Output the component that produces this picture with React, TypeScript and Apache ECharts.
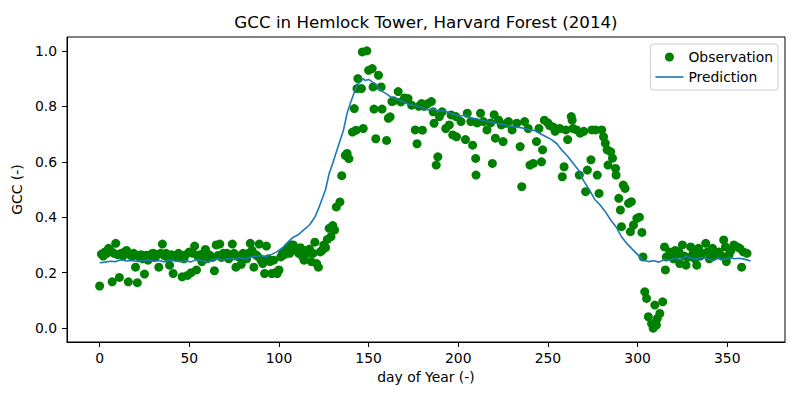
import React, { useEffect, useRef } from "react";
import * as echarts from "echarts";

const TITLE = "GCC in Hemlock Tower, Harvard Forest (2014)";
const X_LABEL = "day of Year (-)";
const Y_LABEL = "GCC (-)";
const xTicks = [0, 50, 100, 150, 200, 250, 300, 350];
const yTicks = [0, 0.2, 0.4, 0.6, 0.8, 1.0];

const observations: [number, number][] = [
  [0, 0.152], [1, 0.267], [2, 0.26], [3, 0.275], [4, 0.27], [5, 0.288], [6, 0.28], [7, 0.167], [8, 0.27], [9, 0.306],
  [10, 0.265], [11, 0.183], [12, 0.27], [13, 0.26], [14, 0.275], [15, 0.28], [16, 0.167], [17, 0.265], [18, 0.258], [19, 0.27],
  [20, 0.22], [21, 0.164], [22, 0.257], [23, 0.265], [24, 0.25], [25, 0.195], [26, 0.263], [27, 0.245], [28, 0.26], [29, 0.268],
  [30, 0.27], [31, 0.255], [32, 0.265], [33, 0.22], [34, 0.27], [35, 0.303], [36, 0.262], [37, 0.27], [38, 0.255], [39, 0.227],
  [40, 0.265], [41, 0.197], [42, 0.26], [43, 0.255], [44, 0.27], [45, 0.262], [46, 0.185], [47, 0.25], [48, 0.265], [49, 0.19],
  [50, 0.275], [51, 0.2], [52, 0.27], [53, 0.296], [54, 0.21], [55, 0.257], [56, 0.265], [57, 0.24], [58, 0.27], [59, 0.284],
  [60, 0.25], [61, 0.265], [62, 0.26], [63, 0.255], [64, 0.207], [65, 0.3], [66, 0.262], [67, 0.303], [68, 0.255], [69, 0.27],
  [70, 0.26], [71, 0.27], [72, 0.25], [73, 0.265], [74, 0.303], [75, 0.27], [76, 0.22], [77, 0.26], [78, 0.255], [79, 0.23],
  [80, 0.27], [81, 0.265], [82, 0.25], [83, 0.27], [84, 0.306], [85, 0.28], [86, 0.22], [87, 0.265], [88, 0.26], [89, 0.303],
  [90, 0.245], [91, 0.233], [92, 0.197], [93, 0.296], [94, 0.25], [95, 0.24], [96, 0.197], [97, 0.245], [98, 0.2], [99, 0.197],
  [100, 0.21], [101, 0.257], [102, 0.27], [103, 0.265], [104, 0.28], [105, 0.29], [106, 0.27], [107, 0.3], [108, 0.3], [109, 0.285],
  [110, 0.28], [111, 0.27], [112, 0.29], [113, 0.26], [114, 0.245], [115, 0.28], [116, 0.27], [117, 0.285], [118, 0.24], [119, 0.27],
  [120, 0.31], [121, 0.233], [122, 0.22], [123, 0.275], [124, 0.28], [125, 0.3], [126, 0.29], [127, 0.32], [128, 0.36], [129, 0.33],
  [130, 0.37], [131, 0.354], [132, 0.437], [134, 0.455], [135, 0.55], [137, 0.623], [138, 0.63], [139, 0.611], [141, 0.707], [142, 0.792],
  [143, 0.714], [143.5, 0.864], [144, 0.9], [146, 0.864], [146.5, 0.996], [147, 0.72], [149, 1.0], [150, 0.93], [152, 0.936], [152.5, 0.87],
  [153, 0.79], [154, 0.683], [155.5, 0.912], [157, 0.87], [157.5, 0.79], [160, 0.677], [161, 0.757], [162, 0.762], [163, 0.817], [164, 0.82],
  [166.5, 0.853], [168, 0.816], [170, 0.83], [172, 0.828], [174, 0.804], [176, 0.715], [177, 0.665], [178, 0.8], [179.5, 0.81], [180, 0.714],
  [181, 0.8], [183, 0.81], [185, 0.817], [186, 0.78], [186.5, 0.739], [187.7, 0.588], [188.6, 0.618], [189.5, 0.763], [191, 0.78], [193, 0.72],
  [195, 0.733], [196, 0.769], [196.9, 0.697], [198.7, 0.763], [199, 0.69], [201.5, 0.745], [204, 0.68], [205, 0.775], [207, 0.745], [208, 0.66],
  [209.7, 0.612], [209.9, 0.552], [210.5, 0.74], [212.4, 0.775], [214, 0.745], [216, 0.715], [218, 0.74], [219, 0.594], [220, 0.77], [220.7, 0.685],
  [222.5, 0.75], [224, 0.733], [225, 0.673], [227, 0.739], [228, 0.745], [230, 0.715], [232.6, 0.739], [234.5, 0.655], [235.4, 0.51], [237, 0.745],
  [239, 0.72], [240, 0.588], [241.8, 0.594], [243.6, 0.673], [245, 0.72], [246.4, 0.6], [247, 0.643], [248, 0.75], [250, 0.74], [251, 0.73],
  [253, 0.725], [254, 0.71], [256.6, 0.72], [258, 0.546], [259, 0.582], [260, 0.715], [261, 0.68], [263, 0.763], [263.5, 0.75], [264, 0.72],
  [266, 0.715], [267.5, 0.552], [268, 0.703], [270, 0.71], [271, 0.492], [272, 0.57], [274, 0.607], [274.5, 0.715], [276.6, 0.715], [277.5, 0.552],
  [278.5, 0.486], [280, 0.715], [281, 0.69], [282, 0.667], [283, 0.643], [283.5, 0.588], [285, 0.636], [286, 0.613], [287.7, 0.576], [288, 0.552],
  [289.5, 0.468], [290.4, 0.426], [291, 0.366], [292, 0.516], [293, 0.504], [295, 0.45], [296, 0.348], [296.5, 0.456], [297.7, 0.372], [299.6, 0.396],
  [301, 0.4], [302.4, 0.345], [303, 0.257], [304, 0.131], [305, 0.107], [306, 0.041], [307.8, 0.017], [308.7, 0.0], [309.6, 0.083], [310.5, 0.011],
  [311, 0.035], [312.4, 0.053], [314, 0.095], [315, 0.293], [315.5, 0.21], [316, 0.257], [318, 0.275], [319, 0.26], [320, 0.25], [321, 0.28],
  [322, 0.265], [323, 0.275], [323.5, 0.233], [325, 0.3], [326, 0.26], [327, 0.227], [328, 0.255], [329.6, 0.293], [331, 0.27], [332, 0.25],
  [333, 0.227], [334, 0.288], [335, 0.26], [336, 0.27], [338, 0.306], [339, 0.275], [340, 0.25], [341.8, 0.288], [342, 0.26], [344, 0.27],
  [345.4, 0.275], [347, 0.26], [348, 0.318], [349, 0.293], [349.5, 0.24], [351, 0.265], [352, 0.28], [353.7, 0.3], [355.5, 0.293], [357, 0.288],
  [358, 0.22], [359, 0.275], [361, 0.27],
];

const prediction: [number, number][] = [
  [0, 0.236], [3, 0.238], [6, 0.241], [9, 0.24], [12, 0.247], [15, 0.242], [18, 0.244], [21, 0.24], [24, 0.243], [27, 0.246],
  [30, 0.241], [33, 0.244], [36, 0.239], [39, 0.245], [42, 0.242], [45, 0.24], [48, 0.243], [51, 0.239], [54, 0.248], [57, 0.244],
  [60, 0.238], [63, 0.246], [66, 0.25], [69, 0.245], [72, 0.251], [75, 0.247], [78, 0.254], [81, 0.25], [84, 0.256], [87, 0.259],
  [90, 0.262], [93, 0.258], [96, 0.266], [99, 0.276], [102, 0.29], [105, 0.31], [108, 0.328], [111, 0.338], [114, 0.355], [117, 0.372],
  [120, 0.4], [122, 0.43], [124, 0.465], [126, 0.5], [128, 0.558], [130, 0.595], [132, 0.635], [134, 0.675], [136, 0.715], [138, 0.775],
  [140, 0.815], [142, 0.85], [144, 0.88], [146, 0.892], [147, 0.9], [148, 0.893], [150, 0.897], [152, 0.888], [154, 0.88], [156, 0.862],
  [158, 0.852], [160, 0.845], [162, 0.835], [164, 0.83], [166, 0.826], [168, 0.82], [171, 0.81], [174, 0.805], [177, 0.8], [180, 0.795],
  [183, 0.788], [186, 0.79], [189, 0.782], [192, 0.785], [195, 0.776], [198, 0.77], [201, 0.765], [204, 0.768], [207, 0.758], [210, 0.755],
  [213, 0.75], [216, 0.746], [219, 0.742], [222, 0.738], [225, 0.735], [228, 0.73], [231, 0.726], [234, 0.724], [237, 0.72], [240, 0.715],
  [243, 0.712], [246, 0.7], [249, 0.69], [252, 0.68], [255, 0.665], [258, 0.64], [261, 0.62], [264, 0.595], [267, 0.57], [270, 0.53],
  [273, 0.5], [276, 0.465], [279, 0.445], [282, 0.42], [285, 0.39], [288, 0.365], [291, 0.33], [294, 0.305], [297, 0.285], [300, 0.265],
  [303, 0.245], [306, 0.24], [309, 0.243], [312, 0.238], [315, 0.248], [318, 0.245], [321, 0.252], [324, 0.247], [327, 0.26], [330, 0.252],
  [333, 0.248], [336, 0.255], [339, 0.25], [342, 0.243], [345, 0.252], [348, 0.247], [351, 0.255], [354, 0.25], [357, 0.252], [360, 0.248],
  [363, 0.242],
];

const FONT = "DejaVu Sans";

export default function App() {
  const ref = useRef<HTMLDivElement>(null);
  useEffect(() => {
    if (!ref.current) return;
    const chart = echarts.init(ref.current, undefined, { renderer: "svg" });
    const axisCommon = {
      axisLine: { show: true, onZero: false, lineStyle: { color: "#000", width: 1 } },
      splitLine: { show: false },
    };
    chart.setOption({
      animation: false,
      backgroundColor: "#fff",
      textStyle: { fontFamily: FONT },
      grid: {
        left: 67, right: 15, top: 37, bottom: 58,
        show: true, borderColor: "#000", borderWidth: 1, backgroundColor: "transparent",
      },
      graphic: [
        {
          type: "text", x: 426, y: 22,
          style: {
            text: TITLE, fill: "#000", font: `16.7px ${FONT}`,
            textAlign: "center", textVerticalAlign: "middle",
          },
        },
      ],
      legend: {
        orient: "vertical",
        right: 22, top: 44,
        data: [
          { name: "Observation", icon: "circle" },
          { name: "Prediction", icon: "path://M0,0H28V1.6H0Z" },
        ],
        itemWidth: 28, itemHeight: 9, itemGap: 4, itemTextGap: 12,
        padding: [5, 5, 5, 5],
        backgroundColor: "rgba(255,255,255,0.8)",
        borderColor: "#cccccc", borderWidth: 1, borderRadius: 3,
        textStyle: { fontFamily: FONT, fontSize: 13.9, color: "#000", lineHeight: 16 },
      },
      xAxis: {
        type: "value", min: -18.2, max: 382.2,
        ...axisCommon,
        name: X_LABEL, nameLocation: "middle", nameGap: 27,
        nameTextStyle: { fontFamily: FONT, fontSize: 13.9, color: "#000" },
        axisTick: { show: true, length: 5, customValues: xTicks, lineStyle: { color: "#000" } },
        axisLabel: {
          customValues: xTicks, margin: 9, color: "#000", fontFamily: FONT, fontSize: 13.9,
          formatter: (v: number) => String(v),
        },
      },
      yAxis: {
        type: "value", min: -0.05, max: 1.05,
        ...axisCommon,
        name: Y_LABEL, nameLocation: "middle", nameGap: 38,
        nameTextStyle: { fontFamily: FONT, fontSize: 13.9, color: "#000" },
        axisTick: { show: true, length: 5, customValues: yTicks, lineStyle: { color: "#000" } },
        axisLabel: {
          customValues: yTicks, margin: 10, color: "#000", fontFamily: FONT, fontSize: 13.9,
          formatter: (v: number) => v.toFixed(1),
        },
      },
      series: [
        {
          name: "Observation", type: "scatter", data: observations,
          symbol: "circle", symbolSize: 9,
          itemStyle: { color: "#008000", opacity: 1 },
          z: 2,
        },
        {
          name: "Prediction", type: "line", data: prediction,
          symbol: "none", showSymbol: false,
          lineStyle: { color: "#1f77b4", width: 1.6 },
          itemStyle: { color: "#1f77b4" },
          z: 3,
        },
      ],
    });
    return () => chart.dispose();
  }, []);
  return (
    <div
      ref={ref}
      style={{ position: "fixed", left: 0, top: 0, width: 800, height: 400 }}
    />
  );
}
